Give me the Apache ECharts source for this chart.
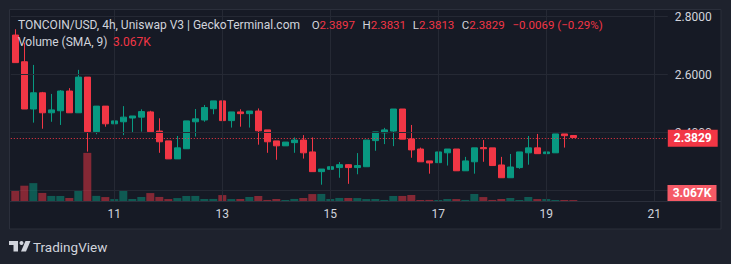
<!DOCTYPE html>
<html>
<head>
<meta charset="utf-8">
<script src="https://cdn.jsdelivr.net/npm/echarts@6/dist/echarts.min.js"></script>
<style>
  html, body { margin: 0; padding: 0; background: #1e222d; }
  #chart { width: 731px; height: 264px; }
</style>
</head>
<body>
<div id="chart"></div>
<script>
// ---- data ----
const opens  = [2.736,2.644,2.481,2.537,2.468,2.475,2.543,2.468,2.591,2.403,2.491,2.430,2.437,2.450,2.453,2.471,2.405,2.371,2.309,2.344,2.437,2.443,2.482,2.509,2.441,2.471,2.465,2.474,2.409,2.371,2.354,2.365,2.374,2.333,2.265,2.273,2.279,2.289,2.279,2.282,2.372,2.399,2.405,2.481,2.378,2.343,2.302,2.296,2.330,2.343,2.268,2.299,2.348,2.347,2.288,2.244,2.279,2.330,2.347,2.327,2.330,2.395,2.3897];
const closes = [2.641,2.481,2.537,2.468,2.478,2.543,2.468,2.591,2.403,2.491,2.430,2.440,2.453,2.457,2.472,2.403,2.368,2.309,2.347,2.440,2.447,2.486,2.509,2.441,2.471,2.465,2.474,2.406,2.368,2.354,2.367,2.374,2.330,2.265,2.274,2.282,2.289,2.279,2.286,2.374,2.402,2.409,2.481,2.377,2.340,2.299,2.295,2.333,2.343,2.268,2.302,2.347,2.344,2.286,2.244,2.281,2.333,2.347,2.327,2.333,2.395,2.389,2.3829];
const lows   = [2.641,2.481,2.434,2.413,2.437,2.426,2.468,2.468,2.334,2.394,2.420,2.430,2.391,2.399,2.403,2.403,2.330,2.309,2.309,2.344,2.386,2.437,2.463,2.441,2.417,2.420,2.417,2.358,2.330,2.306,2.354,2.330,2.310,2.265,2.220,2.273,2.244,2.223,2.256,2.282,2.337,2.360,2.353,2.377,2.313,2.299,2.258,2.282,2.286,2.268,2.268,2.258,2.299,2.286,2.244,2.244,2.275,2.289,2.327,2.327,2.330,2.348,2.3813];
const highs  = [2.756,2.710,2.633,2.540,2.533,2.546,2.553,2.616,2.591,2.491,2.491,2.481,2.491,2.457,2.480,2.475,2.449,2.371,2.388,2.440,2.481,2.495,2.509,2.518,2.471,2.480,2.474,2.483,2.409,2.371,2.367,2.383,2.391,2.383,2.274,2.287,2.298,2.291,2.329,2.374,2.402,2.416,2.481,2.481,2.426,2.348,2.302,2.333,2.343,2.343,2.316,2.347,2.374,2.347,2.316,2.326,2.333,2.388,2.395,2.381,2.395,2.395,2.3831];
const volumesK = [16.2,24.5,28.6,12.9,8.1,7.9,4.8,16.1,77.0,8.2,6.3,3.1,16.0,3.2,6.4,12.7,6.5,3.1,4.7,8.0,8.1,3.2,3.3,9.5,3.1,3.2,6.4,8.1,1.7,3.2,1.6,3.3,4.8,11.1,11.3,3.2,4.9,4.8,4.7,3.1,3.2,1.7,8.0,8.1,9.6,1.6,1.7,1.6,3.2,3.1,1.7,11.2,6.3,1.7,3.2,4.8,1.6,6.4,3.1,3.2,1.6,1.6,1.5];
const dayTicks = ['11','13','15','17','19','21'];
const priceTicks = [2.4, 2.6, 2.8];
const headerTitle = 'TONCOIN/USD, 4h, Uniswap V3 | GeckoTerminal.com';
const ohlcLetters = ['O', 'H', 'L', 'C'];
const ohlcValues = ['2.3897', '2.3831', '2.3813', '2.3829'];
const changeText = '\u22120.0069 (\u22120.29%)';
const volumeLegend = 'Volume (SMA, 9)';
const volumeSMA = '3.067K';

// categories: 4h steps, from day 9 04:00, 73 slots (extends past last candle)
const categories = [];
for (let i = 0; i < 73; i++) {
  const t = 4 + 4 * i;
  const d = 9 + Math.floor(t / 24);
  const h = t % 24;
  categories.push(d + ' ' + (h < 10 ? '0' + h : h) + ':00');
}

const UP = '#089981', DOWN = '#f23645';
const candleData = opens.map((o, i) => [o, closes[i], lows[i], highs[i]]);
const volData = volumesK.map((v, i) => ({
  value: v,
  itemStyle: { color: closes[i] >= opens[i] ? 'rgba(8,153,129,0.5)' : 'rgba(242,54,69,0.5)' }
}));
const lastClose = closes[closes.length - 1];

const isTick = (cat) => {
  const [d, hm] = cat.split(' ');
  return hm === '00:00' && dayTicks.indexOf(d) >= 0;
};
const tickCats = categories.filter(isTick);

const FONT = 'Roboto, "Noto Sans", sans-serif';
const GRID_COL = '#252934';
const TEXT_COL = '#d1d4dc';

const chart = echarts.init(document.getElementById('chart'), null, { renderer: 'svg', width: 731, height: 264 });

const markLineData = [];
tickCats.forEach(c => markLineData.push({ xAxis: c, lineStyle: { color: GRID_COL, type: 'solid', width: 1 }, label: { show: false } }));
priceTicks.forEach(p => markLineData.push({ yAxis: p, lineStyle: { color: GRID_COL, type: 'solid', width: 1 }, label: { show: false } }));
markLineData.push({
  yAxis: lastClose,
  lineStyle: { color: DOWN, type: [1, 2], width: 1 },
  label: {
    show: true, position: 'end', distance: 0,
    formatter: () => lastClose.toFixed(4),
    backgroundColor: DOWN, color: '#ffffff', fontFamily: FONT, fontSize: 12, fontWeight: 'bold',
    padding: [3, 6, 2, 6], lineHeight: 12
  }
});

// header OHLC positions (left x of each letter)
const ohlcX = [311.7, 362.5, 412.8, 461.8];
const ohlcGraphics = ohlcLetters.map((l, i) => ({
  type: 'text', z: 50, x: ohlcX[i], y: 25,
  style: {
    text: '{l|' + l + '}{v|' + ohlcValues[i] + '}',
    verticalAlign: 'middle',
    rich: {
      l: { fill: TEXT_COL, font: '11.5px ' + FONT },
      v: { fill: DOWN, font: '11.5px ' + FONT }
    }
  }
}));

const option = {
  backgroundColor: '#1e222d',
  animation: false,
  textStyle: { fontFamily: FONT },
  grid: [
    { left: 10.8, width: 657, top: 10, height: 191 },
    { left: 10.8, width: 657, top: 121, height: 80 }
  ],
  xAxis: [
    {
      type: 'category', gridIndex: 0, data: categories, boundaryGap: true,
      axisLine: { show: false }, axisTick: { show: false }, splitLine: { show: false },
      axisLabel: {
        interval: (idx, val) => isTick(val),
        formatter: (val) => val.split(' ')[0],
        color: TEXT_COL, fontSize: 12, margin: 7, fontFamily: FONT
      }
    },
    { type: 'category', gridIndex: 1, data: categories, boundaryGap: true, show: false }
  ],
  yAxis: [
    {
      type: 'value', gridIndex: 0, position: 'right',
      min: 2.4 - (201 - 132.5) / 290, max: 2.4 + (132.5 - 10) / 290,
      splitLine: { show: false }, axisLine: { show: false }, axisTick: { show: false },
      axisLabel: {
        customValues: priceTicks,
        formatter: (v) => v.toFixed(4),
        color: TEXT_COL, fontSize: 12, margin: 7, fontFamily: FONT
      }
    },
    { type: 'value', gridIndex: 1, min: 0, max: 128, show: false }
  ],
  series: [
    {
      type: 'bar', xAxisIndex: 1, yAxisIndex: 1, data: volData, barWidth: 8,
      z: 1, silent: true
    },
    {
      type: 'candlestick', xAxisIndex: 0, yAxisIndex: 0, data: candleData,
      barWidth: 6, z: 3,
      itemStyle: { color: UP, color0: DOWN, borderColor: UP, borderColor0: DOWN, borderWidth: 1 },
      markLine: { silent: true, symbol: 'none', animation: false, data: markLineData }
    }
  ],
  graphic: [
    { type: 'rect', z: -10, shape: { x: 9.5, y: 9.5, width: 711.5, height: 219.5 }, style: { fill: '#161a25', stroke: '#2b2f3b', lineWidth: 1 } },
    { type: 'line', z: -5, shape: { x1: 10, y1: 190.5, x2: 667.8, y2: 190.5 }, style: { stroke: GRID_COL, lineWidth: 1 } },
    { type: 'line', z: 5, shape: { x1: 10, y1: 201.5, x2: 721, y2: 201.5 }, style: { stroke: '#2b2f3b', lineWidth: 1 } },
    // header
    { type: 'text', z: 50, x: 18, y: 25, style: { text: headerTitle, fill: TEXT_COL, font: '12px ' + FONT, verticalAlign: 'middle' } },
    ...ohlcGraphics,
    { type: 'text', z: 50, x: 512.5, y: 25, style: { text: changeText, fill: DOWN, font: '11.5px ' + FONT, verticalAlign: 'middle' } },
    { type: 'text', z: 50, x: 18, y: 42, style: { text: volumeLegend, fill: TEXT_COL, font: '12px ' + FONT, verticalAlign: 'middle' } },
    { type: 'text', z: 50, x: 113, y: 42, style: { text: volumeSMA, fill: DOWN, font: '12px ' + FONT, verticalAlign: 'middle' } },
    // volume SMA box on scale
    { type: 'rect', z: 60, shape: { x: 667.5, y: 185, width: 49, height: 16 }, style: { fill: '#f55a66' } },
    { type: 'text', z: 61, x: 692, y: 193, style: { text: volumeSMA, fill: '#ffffff', font: 'bold 12px ' + FONT, align: 'center', verticalAlign: 'middle' } },
    // TradingView logo
    { type: 'polygon', z: 50, shape: { points: [[9, 241], [18, 241], [18, 251.5], [13.5, 251.5], [13.5, 245], [9, 245]] }, style: { fill: TEXT_COL } },
    { type: 'circle', z: 50, shape: { cx: 21.5, cy: 243, r: 2 }, style: { fill: TEXT_COL } },
    { type: 'polygon', z: 50, shape: { points: [[25.5, 241], [30.5, 241], [26, 251.5], [21, 251.5]] }, style: { fill: TEXT_COL } },
    { type: 'text', z: 50, x: 33, y: 247, style: { text: 'TradingView', fill: TEXT_COL, font: '13.5px "Liberation Sans Narrow", Roboto, sans-serif', verticalAlign: 'middle' } }
  ]
};
chart.setOption(option);
</script>
</body>
</html>
